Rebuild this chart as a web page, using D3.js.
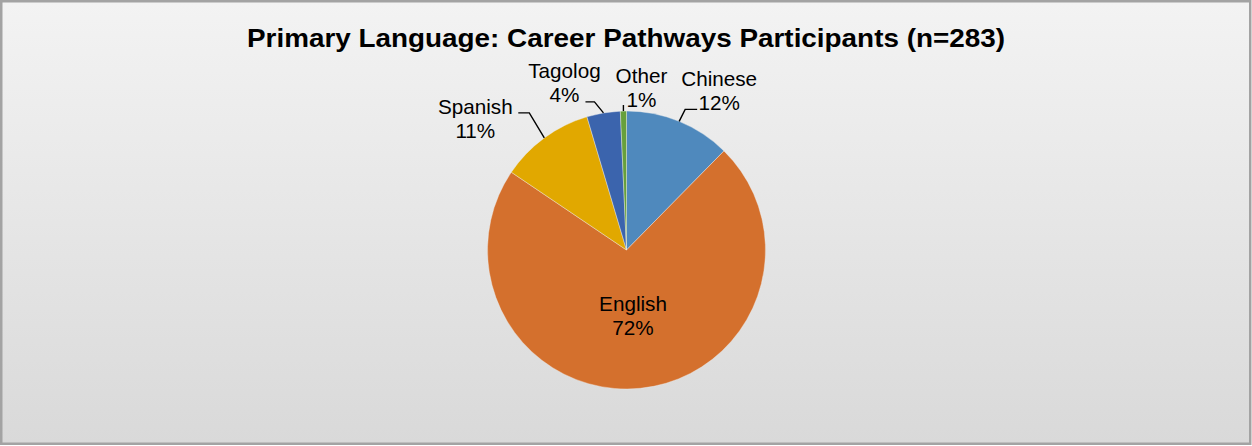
<!DOCTYPE html>
<html>
<head>
<meta charset="utf-8">
<script src="https://cdn.jsdelivr.net/npm/d3@7"></script>
<style>
  html, body { margin: 0; padding: 0; background: #fff; }
  svg { display: block; }
</style>
</head>
<body>
<svg id="chart" width="1252" height="446"></svg>
<script>
// data (n=283)
var languages = ["Chinese", "English", "Spanish", "Tagolog", "Other"];
var counts = [35, 204, 31, 11, 2];
var colors = ["#4f89bd", "#d4702d", "#e1a800", "#3b64ad", "#67a03b"];
var titleText = "Primary Language: Career Pathways Participants (n=283)";

// label placement, relative to the point where the leader meets the pie
// (tx, ty) = text centre x / first baseline, line = leader points
var labelLayout = {
  Chinese: { tx: 40, ty: -35, line: [[6, -12], [18, -12]] },
  Spanish: { tx: -69, ty: -24, line: [[-15, -25], [-26, -25]] },
  Tagolog: { tx: -39, ty: -35, line: [[-9, -11], [-18, -11]] },
  Other:   { tx: 18, ty: -28, line: [[0, -6]] }
};

var svg = d3.select("#chart"),
    width = +svg.attr("width"),
    height = +svg.attr("height"),
    cx = 626.5, cy = 250, radius = 139;

var defs = svg.append("defs");
var grad = defs.append("linearGradient")
    .attr("id", "bg")
    .attr("x1", 0).attr("y1", 0).attr("x2", 0).attr("y2", 1);
grad.append("stop").attr("offset", "0%").attr("stop-color", "#f3f3f3");
grad.append("stop").attr("offset", "100%").attr("stop-color", "#d9d9d9");

svg.append("rect")
    .attr("x", 1.25).attr("y", 1.25)
    .attr("width", width - 3).attr("height", height - 3.5)
    .attr("fill", "url(#bg)")
    .attr("stroke", "#a3a3a3")
    .attr("stroke-width", 2.5);

// title is drawn a bit wide in the original
svg.append("text")
    .attr("x", 626)
    .attr("y", 47.3)
    .attr("text-anchor", "middle")
    .attr("textLength", 758)
    .attr("lengthAdjust", "spacingAndGlyphs")
    .style("font-family", "Liberation Sans, Arial, sans-serif")
    .style("font-weight", "bold")
    .style("font-size", "25px")
    .style("fill", "#000")
    .text(titleText);

var total = d3.sum(counts);
var rows = languages.map(function(d, i) {
  return { name: d, value: counts[i], color: colors[i] };
});

var pie = d3.pie()
    .sort(null)
    .value(function(d) { return d.value; });

var arc = d3.arc().innerRadius(0).outerRadius(radius);
var arcs = pie(rows);

var g = svg.append("g").attr("transform", "translate(" + cx + "," + cy + ")");

g.selectAll("path.slice")
    .data(arcs)
    .enter().append("path")
      .attr("class", "slice")
      .attr("d", arc)
      .attr("fill", function(d) { return d.data.color; })
      .attr("stroke", "#f0f0f0")
      .attr("stroke-width", 0.4);

function pct(d) { return Math.round(d.value / total * 100) + "%"; }

var font = { family: "Liberation Sans, Arial, sans-serif", size: "20.7px" };

arcs.forEach(function(d) {
  var mid = (d.startAngle + d.endAngle) / 2;
  var lay = labelLayout[d.data.name];
  var lines = [d.data.name, pct(d)];
  var x, y;
  if (lay) {
    var ex = radius * Math.sin(mid), ey = -radius * Math.cos(mid);
    var pts = [[ex, ey]].concat(lay.line.map(function(p) { return [ex + p[0], ey + p[1]]; }));
    g.append("path")
        .attr("d", d3.line()(pts))
        .attr("fill", "none")
        .attr("stroke", "#000")
        .attr("stroke-width", 1.4);
    x = ex + lay.tx;
    y = ey + lay.ty;
  } else {
    var c = d3.arc().innerRadius(0).outerRadius(radius * 0.94).centroid(d);
    x = c[0];
    y = c[1] - 4.5;
  }
  var t = g.append("text")
      .attr("text-anchor", "middle")
      .style("font-family", font.family)
      .style("font-size", font.size)
      .style("fill", "#000");
  lines.forEach(function(s, i) {
    t.append("tspan").attr("x", x).attr("y", y + i * 24).text(s);
  });
});
</script>
</body>
</html>
